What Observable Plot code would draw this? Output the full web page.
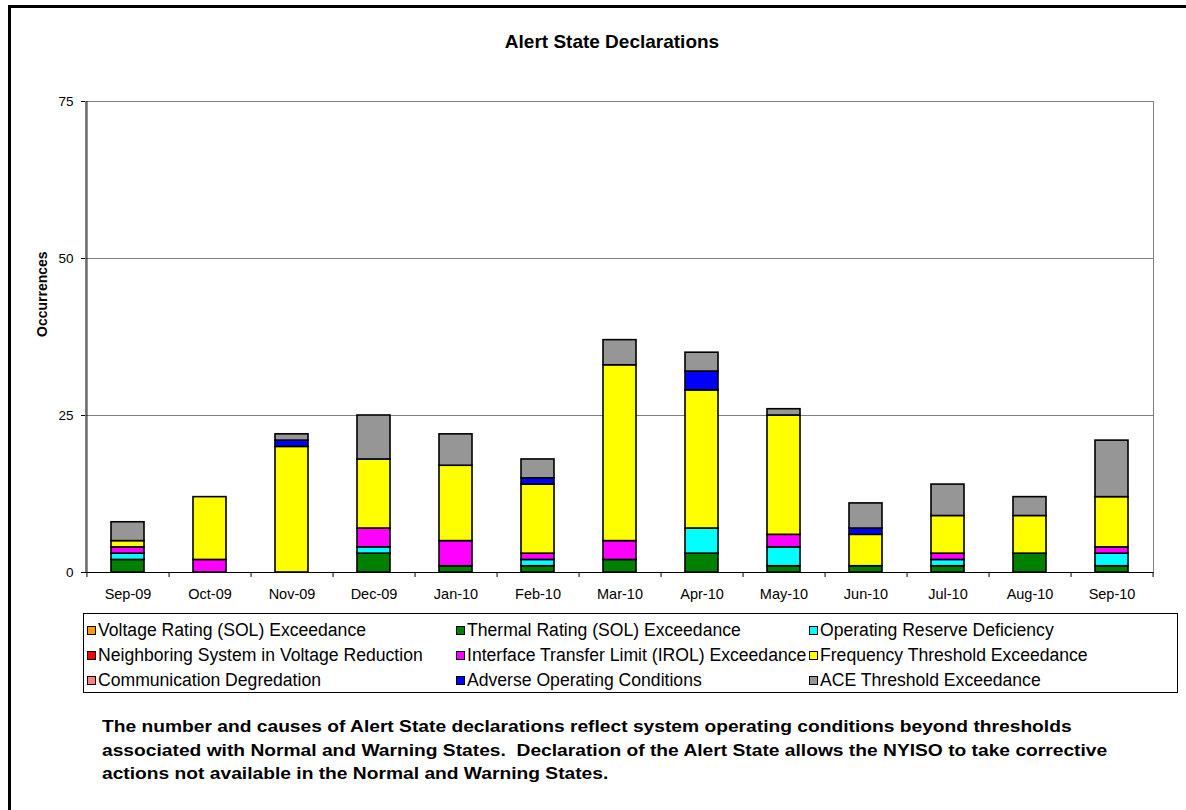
<!DOCTYPE html>
<html>
<head>
<meta charset="utf-8">
<script src="https://cdn.jsdelivr.net/npm/d3@7"></script>
<script src="https://cdn.jsdelivr.net/npm/@observablehq/plot@0.6"></script>
<style>
  html, body { margin: 0; padding: 0; background: #fff; }
  body { width: 1186px; height: 810px; overflow: hidden; position: relative; font-family: "Liberation Sans", Arial, sans-serif; }
  #frame { position: absolute; left: 8px; top: 5px; width: 1200px; height: 830px; border-left: 3px solid #000; border-top: 3px solid #000; }
  #title { position: absolute; left: 0; width: 1224px; top: 31px; text-align: center; font-weight: bold; font-size: 19px; color: #000; }
  #chart { position: absolute; left: 0; top: 0; }
  #chart svg text { fill: #000; }
  #legend { position: absolute; left: 83px; top: 613px; width: 1093px; height: 78px; border: 1px solid #000; box-sizing: content-box; }
  .li { position: absolute; font-size: 17.6px; line-height: 20px; white-space: nowrap; color: #000; }
  .sw { display: inline-block; width: 7px; height: 7px; border: 1px solid #000; margin-right: 2px; vertical-align: 1px; }
  #caption { position: absolute; left: 102px; top: 715px; font-weight: bold; font-size: 17px; line-height: 23.5px; white-space: pre; color: #000; transform: scaleX(1.13); transform-origin: 0 0; }
</style>
</head>
<body>
<div id="frame"></div>
<div id="chart"></div>
<div id="title">Alert State Declarations</div>
<div id="legend"></div>
<div id="caption"></div>
<script>
// ---- data ----
const months = ["Sep-09","Oct-09","Nov-09","Dec-09","Jan-10","Feb-10","Mar-10","Apr-10","May-10","Jun-10","Jul-10","Aug-10","Sep-10"];
const seriesNames = [
  "Voltage Rating (SOL) Exceedance",
  "Thermal Rating (SOL) Exceedance",
  "Operating Reserve Deficiency",
  "Neighboring System in Voltage Reduction",
  "Interface Transfer Limit (IROL) Exceedance",
  "Frequency Threshold Exceedance",
  "Communication Degredation",
  "Adverse Operating Conditions",
  "ACE Threshold Exceedance"
];
const seriesColors = ["#FF9900","#008000","#00FFFF","#FF0000","#FF00FF","#FFFF00","#FF8080","#0000FF","#969696"];
const voltage       = [0,0,0,0,0,0,0,0,0,0,0,0,0];
const thermal       = [2,0,0,3,1,1,2,3,1,1,1,3,1];
const opReserve     = [1,0,0,1,0,1,0,4,3,0,1,0,2];
const neighboring   = [0,0,0,0,0,0,0,0,0,0,0,0,0];
const irol          = [1,2,0,3,4,1,3,0,2,0,1,0,1];
const frequency     = [1,10,20,11,12,11,28,22,19,5,6,6,8];
const communication = [0,0,0,0,0,0,0,0,0,0,0,0,0];
const adverse       = [0,0,1,0,0,1,0,3,0,1,0,0,0];
const ace           = [3,0,1,7,5,3,4,3,1,4,5,3,9];
const yTicks = [0,25,50,75];
const yLabel = "Occurrences";
const captionText = "The number and causes of Alert State declarations reflect system operating conditions beyond thresholds\nassociated with Normal and Warning States.  Declaration of the Alert State allows the NYISO to take corrective\nactions not available in the Normal and Warning States.";

const seriesValues = [voltage, thermal, opReserve, neighboring, irol, frequency, communication, adverse, ace];
const data = [];
seriesNames.forEach((s, si) => {
  months.forEach((m, mi) => {
    const v = seriesValues[si][mi];
    if (v > 0) data.push({month: m, series: s, value: v});
  });
});

// ---- layout ----
const W = 1186, H = 615;
const mL = 85, mR = 33, mT = 101, mB = 43;
const step = (W - mL - mR) / months.length;
const plotH = H - mT - mB;

const chart = Plot.plot({
  width: W,
  height: H,
  marginLeft: mL,
  marginRight: mR,
  marginTop: mT,
  marginBottom: mB,
  style: {fontFamily: '"Liberation Sans", Arial, sans-serif', fontSize: "13.5px", background: "transparent", color: "#000"},
  x: {type: "band", domain: months, paddingInner: 0.6, paddingOuter: 0.3, align: 0.5, label: null},
  y: {domain: [0, 75], label: null},
  color: {domain: seriesNames, range: seriesColors},
  marks: [
    Plot.ruleY([25, 50], {stroke: "#808080", strokeWidth: 1}),
    Plot.frame({stroke: "#808080", strokeWidth: 1}),
    Plot.barY(data, Plot.stackY({x: "month", y: "value", fill: "series", stroke: "#000", strokeWidth: 1.6})),
    // left axis line
    Plot.ruleX([months[0]], {dx: -step / 2, stroke: "#000", strokeWidth: 1}),
    // bottom axis line
    Plot.ruleY([0], {stroke: "#000", strokeWidth: 1.2}),
    // category boundary ticks
    Plot.ruleX(months, {dx: step / 2, insetTop: plotH, insetBottom: -5, stroke: "#000", strokeWidth: 1}),
    Plot.ruleX([months[0]], {dx: -step / 2, insetTop: plotH, insetBottom: -5, stroke: "#000", strokeWidth: 1}),
    Plot.axisY({ticks: yTicks, tickSize: 4, tickPadding: 8, fontSize: 13.5, stroke: "#000", label: null}),
    Plot.text([yLabel], {frameAnchor: "left", rotate: -90, dx: -43, fontWeight: "bold", fontSize: 14, fill: "#000"}),
    Plot.axisX({tickSize: 0, tickPadding: 16, fontSize: 14.5, label: null})
  ]
});
document.getElementById("chart").appendChild(chart);

// ---- legend ----
const legend = document.getElementById("legend");
const colX = [3, 372, 725];
const rowY = [6, 31, 56];
seriesNames.forEach((s, i) => {
  const d = document.createElement("div");
  d.className = "li";
  d.style.left = colX[i % 3] + "px";
  d.style.top = rowY[Math.floor(i / 3)] + "px";
  const sw = document.createElement("span");
  sw.className = "sw";
  sw.style.background = seriesColors[i];
  d.appendChild(sw);
  d.appendChild(document.createTextNode(s));
  legend.appendChild(d);
});

document.getElementById("caption").textContent = captionText;
</script>
</body>
</html>
